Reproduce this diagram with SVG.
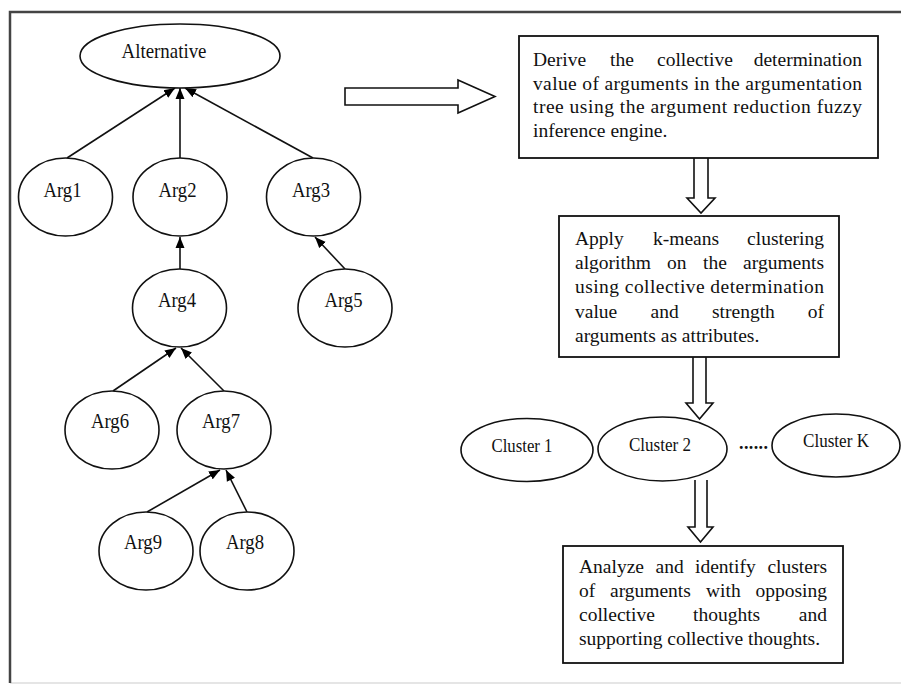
<svg xmlns="http://www.w3.org/2000/svg" width="901" height="685" viewBox="0 0 901 685">
<style>
.nd ellipse{fill:#fff;stroke:#111;stroke-width:1.6}
.lbl{font-family:"Liberation Serif","Times New Roman",serif;fill:#111;text-anchor:middle}
.box rect{fill:#fff;stroke:#111;stroke-width:1.8}
.bt{font-family:"Liberation Serif","Times New Roman",serif;font-size:19.5px;fill:#111}
.e{text-anchor:end}
.edge{stroke:#111;stroke-width:1.6;fill:none;marker-end:url(#ah)}
.big{fill:#fff;stroke:#111;stroke-width:1.6;stroke-linejoin:miter}
</style>
<defs>
<marker id="ah" markerUnits="userSpaceOnUse" markerWidth="12" markerHeight="10" refX="11" refY="5" orient="auto" viewBox="0 0 12 10">
<path d="M0,0.5 L11,5 L0,9.5 z" fill="#000"/>
</marker>
</defs>
<rect width="901" height="685" fill="#fff"/>
<line x1="10" y1="683" x2="901" y2="683" stroke="#ddd" stroke-width="1.5"/>
<path d="M10,683 V12 H901" fill="none" stroke="#444" stroke-width="2.5"/>

<g id="connectors">
<line class="edge" x1="67" y1="158" x2="175" y2="88"/>
<line class="edge" x1="180" y1="158" x2="180" y2="88"/>
<line class="edge" x1="313" y1="158" x2="185" y2="88"/>
<line class="edge" x1="180" y1="269" x2="180" y2="237"/>
<line class="edge" x1="345" y1="269" x2="315" y2="237"/>
<line class="edge" x1="113" y1="391" x2="176" y2="348"/>
<line class="edge" x1="224" y1="391" x2="181" y2="348"/>
<line class="edge" x1="147" y1="512" x2="220" y2="470"/>
<line class="edge" x1="247" y1="512" x2="226" y2="470"/>
<path class="big" d="M345,88 H458 V80 L495,96.5 L458,113 V105 H345 Z"/>
<path class="big" d="M694,158 V198 H687 L701,213 L715,198 H708 V158"/>
<path class="big" d="M693,357 V403 H686 L699.5,419 L713,403 H706 V357"/>
<path class="big" d="M695,480 V527 H688 L700.5,542 L713,527 H707 V480"/>
</g>

<g id="alternative" class="nd"><ellipse cx="180" cy="56" rx="100" ry="32"/><text class="lbl" x="164" y="58" font-size="21" textLength="85" lengthAdjust="spacingAndGlyphs">Alternative</text></g>
<g id="arg1" class="nd"><ellipse cx="65.5" cy="197" rx="47" ry="39"/><text class="lbl" x="62.5" y="197" font-size="21" textLength="38" lengthAdjust="spacingAndGlyphs">Arg1</text></g>
<g id="arg2" class="nd"><ellipse cx="180" cy="197" rx="47" ry="39"/><text class="lbl" x="177.5" y="197" font-size="21" textLength="38" lengthAdjust="spacingAndGlyphs">Arg2</text></g>
<g id="arg3" class="nd"><ellipse cx="313.5" cy="197" rx="47" ry="39"/><text class="lbl" x="311" y="197" font-size="21" textLength="38" lengthAdjust="spacingAndGlyphs">Arg3</text></g>
<g id="arg4" class="nd"><ellipse cx="179.5" cy="308" rx="47" ry="39"/><text class="lbl" x="177" y="307" font-size="21" textLength="38" lengthAdjust="spacingAndGlyphs">Arg4</text></g>
<g id="arg5" class="nd"><ellipse cx="345" cy="308" rx="47" ry="39"/><text class="lbl" x="343.5" y="307" font-size="21" textLength="38" lengthAdjust="spacingAndGlyphs">Arg5</text></g>
<g id="arg6" class="nd"><ellipse cx="112" cy="430" rx="47" ry="39"/><text class="lbl" x="110" y="428" font-size="21" textLength="38" lengthAdjust="spacingAndGlyphs">Arg6</text></g>
<g id="arg7" class="nd"><ellipse cx="224" cy="430" rx="47" ry="39"/><text class="lbl" x="221" y="428" font-size="21" textLength="38" lengthAdjust="spacingAndGlyphs">Arg7</text></g>
<g id="arg9" class="nd"><ellipse cx="146" cy="551" rx="47" ry="39"/><text class="lbl" x="143" y="549" font-size="21" textLength="38" lengthAdjust="spacingAndGlyphs">Arg9</text></g>
<g id="arg8" class="nd"><ellipse cx="247" cy="551" rx="47" ry="39"/><text class="lbl" x="245" y="549" font-size="21" textLength="38" lengthAdjust="spacingAndGlyphs">Arg8</text></g>

<g id="box1" class="box">
<rect x="519" y="36" width="359" height="122"/>
<text class="bt" y="66"><tspan x="533">Derive</tspan><tspan x="610">the</tspan><tspan x="657">collective</tspan><tspan class="e" x="862">determination</tspan></text>
<text class="bt" x="533" y="89.5" textLength="329" lengthAdjust="spacing">value of arguments in the argumentation</text>
<text class="bt" x="533" y="113" textLength="329" lengthAdjust="spacing">tree using the argument reduction fuzzy</text>
<text class="bt" x="533" y="136.5">inference engine.</text>
</g>

<g id="box2" class="box">
<rect x="559" y="216" width="280" height="141"/>
<text class="bt" y="245"><tspan x="575">Apply</tspan><tspan x="653">k-means</tspan><tspan class="e" x="824">clustering</tspan></text>
<text class="bt" y="269"><tspan x="575">algorithm</tspan><tspan x="667">on</tspan><tspan x="703">the</tspan><tspan class="e" x="824">arguments</tspan></text>
<text class="bt" x="575" y="293" textLength="249" lengthAdjust="spacing">using collective determination</text>
<text class="bt" y="318"><tspan x="575">value</tspan><tspan x="650.5">and</tspan><tspan x="712">strength</tspan><tspan class="e" x="824">of</tspan></text>
<text class="bt" x="575" y="342">arguments as attributes.</text>
</g>

<g id="cluster1" class="nd"><ellipse cx="527" cy="450" rx="66" ry="31.5"/><text class="lbl" x="522" y="452" font-size="18" textLength="61" lengthAdjust="spacingAndGlyphs">Cluster 1</text></g>
<g id="cluster2" class="nd"><ellipse cx="662.5" cy="449" rx="64.5" ry="32"/><text class="lbl" x="660" y="451" font-size="18" textLength="62" lengthAdjust="spacingAndGlyphs">Cluster 2</text></g>
<g id="dots"><text x="739" y="449" font-family="Liberation Serif, serif" font-size="18" font-weight="bold" fill="#111" textLength="29" lengthAdjust="spacing">......</text></g>
<g id="clusterK" class="nd"><ellipse cx="836" cy="445.5" rx="64" ry="31.5"/><text class="lbl" x="836" y="447" font-size="18" textLength="66" lengthAdjust="spacingAndGlyphs">Cluster K</text></g>

<g id="box3" class="box">
<rect x="563" y="546" width="280" height="117"/>
<text class="bt" y="573"><tspan x="579">Analyze</tspan><tspan x="655.5">and</tspan><tspan x="695">identify</tspan><tspan class="e" x="827">clusters</tspan></text>
<text class="bt" y="597"><tspan x="579">of</tspan><tspan x="610">arguments</tspan><tspan x="706">with</tspan><tspan class="e" x="827">opposing</tspan></text>
<text class="bt" y="621"><tspan x="579">collective</tspan><tspan x="693">thoughts</tspan><tspan class="e" x="827">and</tspan></text>
<text class="bt" x="579" y="645">supporting collective thoughts.</text>
</g>
</svg>
